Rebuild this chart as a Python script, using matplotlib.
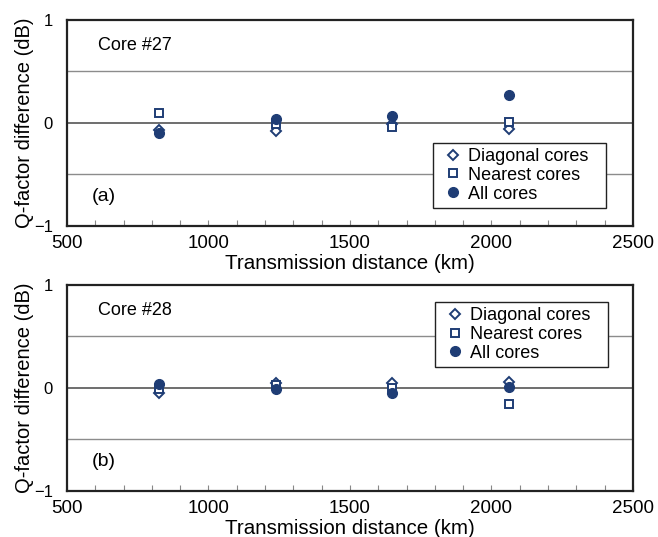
import matplotlib
matplotlib.use('Agg')
from matplotlib import pyplot as plt
from matplotlib.ticker import MultipleLocator

plt.rcParams['font.family'] = ['Liberation Sans', 'DejaVu Sans']

distance = [825, 1238, 1650, 2063]

# core #27
diag_27 = [-0.07, -0.08, -0.01, -0.06]
near_27 = [0.10, -0.01, -0.04, 0.01]
all_27 = [-0.10, 0.04, 0.07, 0.27]

# core #28
diag_28 = [-0.05, 0.05, 0.05, 0.06]
near_28 = [-0.01, 0.03, 0.00, -0.16]
all_28 = [0.04, -0.01, -0.05, 0.01]

panels = [
    ('Core #27', '(a)', diag_27, near_27, all_27, (0.647, 0.086)),
    ('Core #28', '(b)', diag_28, near_28, all_28, (0.650, 0.601)),
]

navy = '#1f3d75'

fig = plt.figure(figsize=(6.58, 5.37), dpi=100)
ax_rects = [[0.1018, 0.5797, 0.8602, 0.3831],
            [0.1018, 0.0862, 0.8602, 0.3831]]

for rect, (core, tag, diag, near, allc, leg_pos) in zip(ax_rects, panels):
    ax = fig.add_axes(rect)
    for yv in (-0.5, 0.5):
        ax.axhline(yv, color='#8c8c8c', lw=1.0, zorder=1)
    ax.axhline(0, color='#555555', lw=1.2, zorder=1)

    ax.plot(distance, diag, ls='none', marker='D', ms=4.6, mfc='white', mec=navy,
            mew=1.4, label='Diagonal cores', zorder=3)
    ax.plot(distance, near, ls='none', marker='s', ms=5.6, mfc='white', mec=navy,
            mew=1.4, label='Nearest cores', zorder=3)
    ax.plot(distance, allc, ls='none', marker='o', ms=7, mfc=navy, mec=navy,
            label='All cores', zorder=4)

    ax.set_xlim(500, 2500)
    ax.set_ylim(-1, 1)
    ax.set_xticks([500, 1000, 1500, 2000, 2500])
    ax.xaxis.set_minor_locator(MultipleLocator(100))
    ax.set_yticks([-1, 0, 1])
    ax.set_yticklabels(['\u22121', '0', '1'])
    ax.tick_params(axis='x', which='major', direction='in', length=4, width=0.8,
                   color='#888888', pad=6.5, labelsize=13.5)
    ax.tick_params(axis='x', which='minor', direction='in', length=4, width=0.8,
                   color='#888888')
    ax.tick_params(axis='y', length=0, pad=10, labelsize=12)
    for sp in ax.spines.values():
        sp.set_linewidth(1.6)
        sp.set_color('#222222')

    ax.set_xlabel('Transmission distance (km)', fontsize=14.8, labelpad=1.5)
    ax.set_ylabel('Q-factor difference (dB)', fontsize=14.5)
    ax.yaxis.set_label_coords(-0.058, 0.5)

    ax.text(0.054, 0.874, core, transform=ax.transAxes, fontsize=13, va='center')
    ax.text(0.044, 0.142, tag, transform=ax.transAxes, fontsize=14, va='center')

    leg = ax.legend(loc='lower left', bbox_to_anchor=(leg_pos[0], leg_pos[1], 0.306, 0.3),
                    mode='expand', fontsize=13,
                    fancybox=False, framealpha=1, edgecolor='#222222',
                    handlelength=1.6, handletextpad=0.05, borderpad=0.3,
                    labelspacing=0.1, borderaxespad=0)
    leg.get_frame().set_linewidth(1.0)

fig.savefig('out.png', dpi=100)
